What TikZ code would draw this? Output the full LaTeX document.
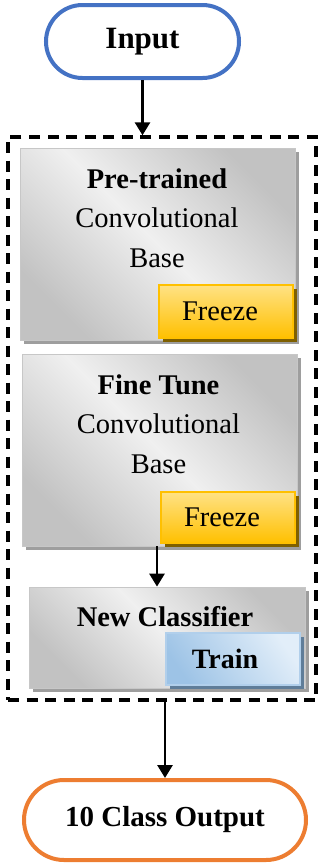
\documentclass[tikz,border=0pt]{standalone}
\usepackage{fontspec}
\setmainfont{Liberation Serif}
\usetikzlibrary{shapes.misc,arrows.meta,shadows}
\definecolor{inblue}{HTML}{4472C4}
\definecolor{outorange}{HTML}{ED7D31}
\definecolor{fzlight}{HTML}{FFE285}
\definecolor{fzdark}{HTML}{FFC000}
\definecolor{fzshadow}{HTML}{7F6000}
\definecolor{trlight}{HTML}{E2EEF9}
\definecolor{trdark}{HTML}{9DC3E6}
\definecolor{trshadow}{HTML}{5F7D99}
\tikzset{
  term/.style={rounded rectangle, draw, line width=4pt, fill=white, inner sep=0pt, font=\fontsize{29}{34}\selectfont\bfseries},
  graybox/.style={draw=black!22, line width=0.8pt, top color=black!24, bottom color=black!24, middle color=black!6, shading angle=-45, inner sep=0pt,
    general shadow={fill=black!38, shadow xshift=3.5pt, shadow yshift=-3.5pt}},
  freezebox/.style={draw=fzdark, line width=1.5pt, top color=fzlight, bottom color=fzdark, inner sep=0pt,
    general shadow={fill=fzshadow, shadow xshift=3.5pt, shadow yshift=-3.5pt}},
  trainbox/.style={draw=trdark!80, line width=1.5pt, top color=trlight, bottom color=trdark, shading angle=-55, inner sep=0pt,
    general shadow={fill=trshadow, shadow xshift=3.5pt, shadow yshift=-3.5pt}, font=\fontsize{28}{34}\selectfont\bfseries},
  txt/.style={align=center, inner sep=0pt},
  arr/.style={line width=2.8pt, -{Triangle[length=13pt,width=15pt]}},
}
\begin{document}
\begin{tikzpicture}[x=1pt,y=-1pt, font=\fontsize{28.5}{39.5}\selectfont]
\useasboundingbox (0,0) rectangle (320,865);
% terminals
\node[term, draw=inblue, minimum width=193pt, minimum height=73pt, font=\fontsize{31}{34}\selectfont\bfseries] (in) at (142.5,41.5) {Input};
\node[term, draw=outorange, minimum width=282pt, minimum height=80pt] (out) at (165,820) {10 Class Output};
% dashed frame
\node[draw, line width=3.4pt, dash pattern=on 11pt off 7.5pt, minimum width=308pt, minimum height=563pt, inner sep=0pt] (frame) at (162,418.5) {};
% boxes
\node[graybox, minimum width=275pt, minimum height=192pt] (pre) at (157.5,244) {};
\node[txt] (pretxt) at (157,218) {\textbf{Pre-trained}\\Convolutional\\Base};
\node[freezebox, minimum width=134pt, minimum height=53pt] (fz1) at (226,311.5) {Freeze\hspace*{12pt}};

\node[graybox, minimum width=275pt, minimum height=192pt] (fine) at (159.5,450) {};
\node[txt] (finetxt) at (158.5,424) {\textbf{Fine Tune}\\Convolutional\\Base};
\node[freezebox, minimum width=134pt, minimum height=51pt] (fz2) at (228,517.5) {Freeze\hspace*{12pt}};

\node[graybox, minimum width=276pt, minimum height=101pt] (cls) at (167,637.5) {};
\node[txt] (clstxt) at (165,617) {\textbf{New Classifier}};
\node[trainbox, minimum width=134pt, minimum height=52pt] (train) at (233,659) {\raisebox{-3pt}{Train}\hspace*{16pt}};
% connectors
\draw[arr] (in.south) -- (in.south |- frame.north);
\draw[arr] (157,546) coordinate (c1) -- (c1 |- cls.north);
\draw[arr] (out.north |- frame.south) -- (out.north);
\end{tikzpicture}
\end{document}
